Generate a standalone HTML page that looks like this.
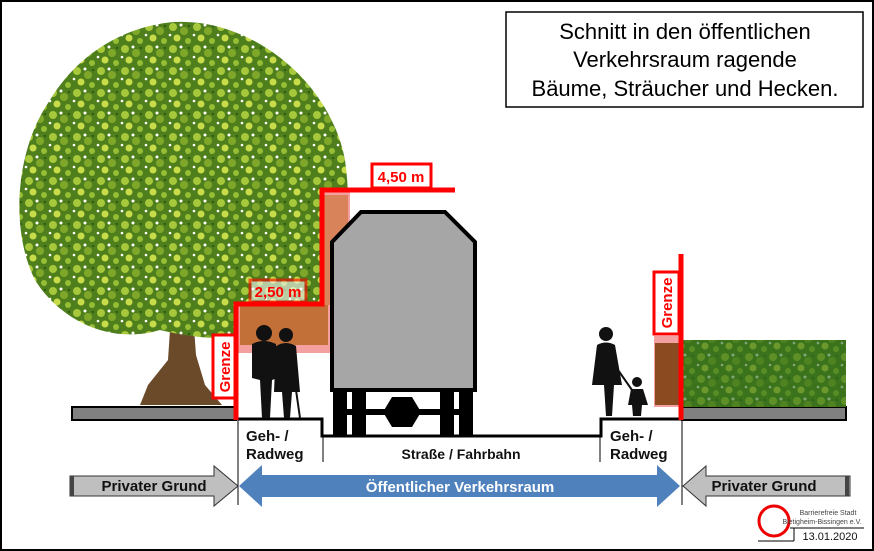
<!DOCTYPE html>
<html><head><style>
html,body{margin:0;padding:0;background:#fff}
svg{display:block}
text{font-family:"Liberation Sans",Arial,sans-serif}
</style></head><body>
<svg width="874" height="551" viewBox="0 0 874 551">
<defs>
<pattern id="leaf" width="24" height="22" patternUnits="userSpaceOnUse">
<rect width="24" height="22" fill="#4f7f1c"/>
<circle cx="5" cy="5" r="4" fill="#a6c83a"/>
<circle cx="16" cy="9" r="4" fill="#7fa82a"/>
<circle cx="9" cy="16" r="3.5" fill="#c8dc4a"/>
<circle cx="20" cy="19" r="3" fill="#96be34"/>
<circle cx="13" cy="3" r="1.5" fill="#fff"/>
<circle cx="2" cy="13" r="1.3" fill="#fff"/>
<circle cx="21" cy="4" r="1.2" fill="#2f5a12"/>
</pattern>
</defs>
<rect x="1" y="1" width="872" height="549" fill="#fff" stroke="#000" stroke-width="2"/>
<!-- tree -->
<path d="M172 300 L168 360 L148 385 L140 405 L222 405 L205 385 L196 355 L192 300 Z" fill="#6b4a2a"/>
<path d="M175 22 C250 18 330 80 345 160 C355 230 340 300 300 320 C260 345 200 340 160 330 C110 345 60 320 35 280 C10 230 15 150 50 100 C80 50 130 25 175 22 Z" fill="url(#leaf)"/>
<rect x="238" y="352" width="84" height="58" fill="#fff"/>
<!-- pink overhang regions -->
<rect x="322" y="192" width="28" height="158" fill="#f4a0a0"/>
<rect x="238" y="305" width="92" height="48" fill="#f4a0a0"/>
<rect x="240" y="305" width="88" height="40" fill="#b5641e" opacity="0.8"/>
<rect x="322" y="195" width="26" height="110" fill="#c5702a" opacity="0.6"/>
<!-- title -->
<rect x="506" y="12" width="357" height="95" fill="#fff" stroke="#000" stroke-width="1.5"/>
<text x="685" y="39" font-size="22" text-anchor="middle">Schnitt in den öffentlichen</text>
<text x="685" y="67" font-size="22" text-anchor="middle">Verkehrsraum ragende</text>
<text x="685" y="96" font-size="22" text-anchor="middle">Bäume, Sträucher und Hecken.</text>
<!-- ground bars -->
<rect x="72" y="407" width="164" height="13" fill="#808080" stroke="#000" stroke-width="2"/>
<rect x="682" y="407" width="164" height="13" fill="#808080" stroke="#000" stroke-width="2"/>
<!-- hedge -->
<rect x="683" y="340" width="163" height="67" fill="url(#leaf)"/>
<rect x="683" y="340" width="163" height="67" fill="#2f6b1d" opacity="0.6"/>
<rect x="654" y="336" width="27" height="71" fill="#f4a0a0"/>
<rect x="655" y="343" width="25" height="62" fill="#8b4a1f"/>
<!-- street profile -->
<polyline points="238,419 322,419 322,436 601,436 601,419 682,419" fill="none" stroke="#000" stroke-width="3"/>
<line x1="323" y1="436" x2="323" y2="462" stroke="#000" stroke-width="1"/>
<line x1="600" y1="436" x2="600" y2="462" stroke="#000" stroke-width="1"/>
<line x1="238" y1="420" x2="238" y2="505" stroke="#000" stroke-width="1"/>
<line x1="682" y1="420" x2="682" y2="505" stroke="#000" stroke-width="1"/>
<!-- truck -->
<polygon points="361,212 445,212 475,242 475,390 332,390 332,242" fill="#a6a6a6" stroke="#000" stroke-width="4"/>
<rect x="333" y="390" width="14" height="46" fill="#000"/>
<rect x="352" y="390" width="14" height="46" fill="#000"/>
<rect x="440" y="390" width="14" height="46" fill="#000"/>
<rect x="459" y="390" width="14" height="46" fill="#000"/>
<rect x="347" y="409" width="112" height="6" fill="#000"/>
<polygon points="392,397 412,397 421,412 412,427 392,427 383,412" fill="#000"/>
<!-- people left -->
<g fill="#111">
<circle cx="264" cy="333" r="8"/>
<path d="M252 344 Q264 338 276 344 L278 378 L272 380 L270 418 L262 418 L260 380 L252 378 Z"/>
<circle cx="286" cy="335" r="7"/>
<path d="M276 346 Q286 340 296 346 L300 392 L292 392 L290 418 L284 418 L282 392 L274 392 Z"/>
<line x1="296" y1="390" x2="300" y2="418" stroke="#111" stroke-width="2"/>
</g>
<!-- people right -->
<g fill="#111">
<circle cx="606" cy="334" r="7"/>
<path d="M597 345 Q606 340 615 345 L622 385 L614 385 L612 416 L606 416 L604 385 L592 385 Z"/>
<circle cx="637" cy="382" r="5"/>
<path d="M631 389 L643 389 L648 405 L642 405 L641 416 L633 416 L632 405 L628 405 Z"/>
<line x1="618" y1="370" x2="632" y2="390" stroke="#111" stroke-width="2"/>
</g>
<!-- red boundary lines -->
<polyline points="236,420 236,304 322,304 322,190 455,190" fill="none" stroke="#f00" stroke-width="5"/>
<line x1="681" y1="254" x2="681" y2="420" stroke="#f00" stroke-width="5"/>
<!-- red labels -->
<rect x="250" y="280" width="56" height="22" fill="#fff" opacity="0.6" stroke="#f00" stroke-width="3"/>
<text x="278" y="297" font-size="15" font-weight="bold" fill="#f00" text-anchor="middle">2,50 m</text>
<rect x="372" y="164" width="59" height="24" fill="#fff" stroke="#f00" stroke-width="3"/>
<text x="401" y="182" font-size="15" font-weight="bold" fill="#f00" text-anchor="middle">4,50 m</text>
<rect x="213" y="335" width="22" height="63" fill="#fff" stroke="#f00" stroke-width="3"/>
<text transform="translate(230,367) rotate(-90)" font-size="15" font-weight="bold" fill="#f00" text-anchor="middle">Grenze</text>
<rect x="654" y="272" width="25" height="62" fill="#fff" stroke="#f00" stroke-width="3"/>
<text transform="translate(672,303) rotate(-90)" font-size="15" font-weight="bold" fill="#f00" text-anchor="middle">Grenze</text>
<!-- labels -->
<g font-size="15" font-weight="bold" fill="#111">
<text x="246" y="441">Geh- /</text>
<text x="246" y="459">Radweg</text>
<text x="610" y="441">Geh- /</text>
<text x="610" y="459">Radweg</text>
<text x="461" y="459" font-size="14" text-anchor="middle">Straße / Fahrbahn</text>
</g>
<!-- arrows -->
<polygon points="70,476 214,476 214,466 238,486 214,506 214,496 70,496" fill="#bfbfbf" stroke="#333" stroke-width="1"/>
<rect x="70" y="476" width="4" height="20" fill="#444"/>
<polygon points="850,476 706,476 706,466 683,486 706,506 706,496 850,496" fill="#bfbfbf" stroke="#333" stroke-width="1"/>
<rect x="845" y="476" width="4" height="20" fill="#444"/>
<polygon points="239,486 262,465 262,475 657,475 657,465 680,486 657,507 657,497 262,497 262,507" fill="#4f81bd"/>
<text x="154" y="491" font-size="15" font-weight="bold" text-anchor="middle" fill="#111">Privater Grund</text>
<text x="764" y="491" font-size="15" font-weight="bold" text-anchor="middle" fill="#111">Privater Grund</text>
<text x="460" y="492" font-size="15" font-weight="bold" text-anchor="middle" fill="#fff">Öffentlicher Verkehrsraum</text>
<!-- logo -->
<circle cx="774" cy="521" r="15" fill="none" stroke="#e00" stroke-width="3"/>
<text x="828" y="515" font-size="7" text-anchor="middle" fill="#444">Barrierefreie Stadt</text>
<text x="822" y="524" font-size="7" text-anchor="middle" fill="#444">Bietigheim-Bissingen e.V.</text>
<line x1="790" y1="528" x2="864" y2="528" stroke="#000" stroke-width="1"/>
<line x1="794" y1="528" x2="794" y2="541" stroke="#000" stroke-width="1"/>
<line x1="758" y1="541" x2="794" y2="541" stroke="#000" stroke-width="1"/>
<text x="830" y="540" font-size="11" text-anchor="middle" fill="#111">13.01.2020</text>
</svg>
</body></html>
